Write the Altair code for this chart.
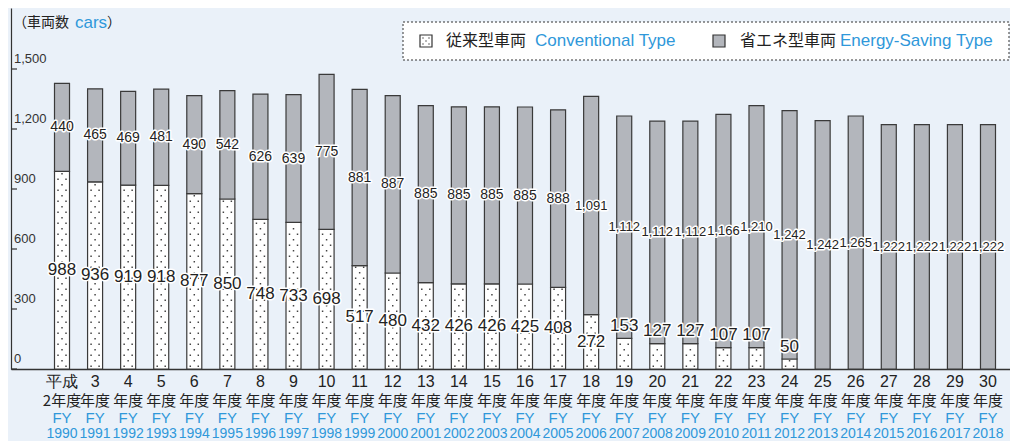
import altair as alt
import pandas as pd

# ---------------- data ----------------
years = list(range(1990, 2019))
conventional = [988, 936, 919, 918, 877, 850, 748, 733, 698, 517, 480, 432, 426, 426,
                425, 408, 272, 153, 127, 127, 107, 107, 50, 0, 0, 0, 0, 0, 0]
energy_saving = [440, 465, 469, 481, 490, 542, 626, 639, 775, 881, 887, 885, 885, 885,
                 885, 888, 1091, 1112, 1112, 1112, 1166, 1210, 1242, 1242, 1265, 1222,
                 1222, 1222, 1222]
era_line1 = ["平成"] + [str(n) for n in range(3, 31)]
era_line2 = ["2年度"] + ["年度"] * 28
fy_line = ["FY"] * 29
y_ticks = [0, 300, 600, 900, 1200, 1500]

# ---------------- style ----------------
BLUE = "#2F98DA"
BG = "#EAF1F9"
GRAY = "#B3B6BC"
NUM = "Liberation Sans, Arial, sans-serif"
JP = "Noto Sans CJK JP"
LATIN = "Liberation Sans, Arial, sans-serif"

df = pd.DataFrame({"year": years, "conv": conventional, "es": energy_saving})
df["total"] = df["conv"] + df["es"]
df["conv_lab"] = [c / 2 if c >= 250 else c + 62 for c in df["conv"]]
df["es_lab"] = df["conv"] + df["es"] / 2
df["line1"] = era_line1
df["line2"] = era_line2
df["fy"] = fy_line
df["yr"] = [str(y) for y in years]

# dotted texture rows inside the conventional segments
rows = []
for yr, c in zip(years, conventional):
    k = 0
    while (k + 0.5) * 27.5 < c - 8:
        rows.append({"year": yr, "dy": (k + 0.5) * 27.5, "odd": k % 2})
        k += 1
dots = pd.DataFrame(rows)

yscale = alt.Scale(domain=[0, 1805], nice=False, zero=True)
yaxis = alt.Axis(labels=False, ticks=False, grid=False, title=None,
                 domainColor="#333333", domainWidth=1.2)
xaxis = alt.Axis(labels=False, ticks=False, grid=False, title=None,
                 domainColor="#333333", domainWidth=1.5)
X = alt.X("year:O", scale=alt.Scale(paddingInner=0.546, paddingOuter=0.877, align=0.75),
          axis=xaxis, title=None)


def Y(field):
    return alt.Y(field, scale=yscale, axis=yaxis, title=None)


base = alt.Chart(df)

conv_bar = base.mark_bar(fill="white", stroke="#3A3A3A", strokeWidth=1.2).encode(
    x=X, y=Y("conv:Q"))
es_bar = base.mark_bar(fill=GRAY, stroke="#3A3A3A", strokeWidth=1.2).encode(
    x=X, y=Y("conv:Q"), y2="total:Q")

dot_layers = []
for odd, offs in [(0, [-4, 4]), (1, [0])]:
    for o in offs:
        dot_layers.append(
            alt.Chart(dots).transform_filter(f"datum.odd == {odd}")
            .mark_square(size=2.2, color="#444444", opacity=1, xOffset=o)
            .encode(x=X, y=Y("dy:Q"))
        )


# value labels with white halo
def labels(field, text, size, filt=None):
    ch = base
    if filt:
        ch = ch.transform_filter(filt)
    halo = ch.mark_text(font=NUM, fontSize=size, fill="white", stroke="white",
                        strokeWidth=3, strokeJoin="round", baseline="middle").encode(
        x=X, y=Y(field), text=text)
    txt = ch.mark_text(font=NUM, fontSize=size, color="#222222",
                       baseline="middle").encode(x=X, y=Y(field), text=text)
    return [halo, txt]


conv_labels = labels("conv_lab:Q", alt.Text("conv:Q", format=","), 17, "datum.conv > 0")
es_labels = (labels("es_lab:Q", alt.Text("es:Q", format=","), 14, "datum.es < 1000")
             + labels("es_lab:Q", alt.Text("es:Q", format=","), 13, "datum.es >= 1000"))

# x category labels (4 lines)
xl1 = base.mark_text(font=NUM, fontSize=16, color="#222222", baseline="middle").encode(
    x=X, y=alt.value(374), text="line1:N")
xl2 = base.mark_text(font=JP, fontSize=15, color="#222222", baseline="middle").encode(
    x=X, y=alt.value(393), text="line2:N")
xl3 = base.mark_text(font=NUM, fontSize=15, color=BLUE, baseline="middle").encode(
    x=X, y=alt.value(410), text="fy:N")
xl4 = base.mark_text(font=NUM, fontSize=14, color=BLUE, baseline="middle").encode(
    x=X, y=alt.value(426), text="yr:N")

# y ticks drawn inside the axis
tdf = pd.DataFrame({"v": y_ticks})
ytick = alt.Chart(tdf).mark_rule(color="#333333", strokeWidth=1.2).encode(
    y=Y("v:Q"), x=alt.value(0), x2=alt.value(6))
ylab = alt.Chart(tdf).mark_text(font=NUM, fontSize=13, color="#333333", align="left",
                                baseline="bottom", dy=-3).encode(
    y=Y("v:Q"), x=alt.value(3), text=alt.Text("v:Q", format=","))

one = pd.DataFrame({"a": [0]})


def txt(s, x, y, color, font, size, align="left"):
    return alt.Chart(one).mark_text(text=s, font=font, fontSize=size, color=color,
                                    align=align, baseline="middle").encode(
        x=alt.value(x), y=alt.value(y))


# unit title
t1 = txt("（車両数", 2, 15, "#222222", JP, 14)
t2 = txt("cars", 64, 15, BLUE, LATIN, 17)
t3 = txt("）", 96, 15, "#222222", JP, 14)

# legend box
lbox = alt.Chart(one).mark_rect(fill="white", stroke="#333333", strokeWidth=1,
                                strokeDash=[2, 2]).encode(
    x=alt.value(392), x2=alt.value(998), y=alt.value(14), y2=alt.value(52))
sw1 = alt.Chart(one).mark_rect(fill="white", stroke="#333333", strokeWidth=1.2).encode(
    x=alt.value(409), x2=alt.value(421), y=alt.value(27), y2=alt.value(39))
sw_dots = [alt.Chart(one).mark_square(size=2.2, color="#444444").encode(
    x=alt.value(px), y=alt.value(py))
    for px, py in [(412, 30), (418, 30), (415, 33), (412, 36), (418, 36)]]
sw2 = alt.Chart(one).mark_rect(fill=GRAY, stroke="#333333", strokeWidth=1.2).encode(
    x=alt.value(702), x2=alt.value(714), y=alt.value(27), y2=alt.value(39))
lt1 = txt("従来型車両", 435, 33, "#222222", JP, 16)
lt2 = txt("Conventional Type", 524, 33, BLUE, LATIN, 17)
lt3 = txt("省エネ型車両", 729, 33, "#222222", JP, 16)
lt4 = txt("Energy-Saving Type", 829, 33, BLUE, LATIN, 17)

chart = alt.layer(
    conv_bar, es_bar, *dot_layers, *es_labels, *conv_labels,
    xl1, xl2, xl3, xl4, ytick, ylab, t1, t2, t3,
    lbox, sw1, *sw_dots, sw2, lt1, lt2, lt3, lt4,
).properties(
    width=999, height=361,
    autosize=alt.AutoSizeParams(type="none"),
    padding={"left": 3, "top": 0, "right": 0, "bottom": 72},
    background=BG,
).configure_view(stroke=None)

chart.save("out.html", embed_options={"renderer": "svg", "actions": False})
